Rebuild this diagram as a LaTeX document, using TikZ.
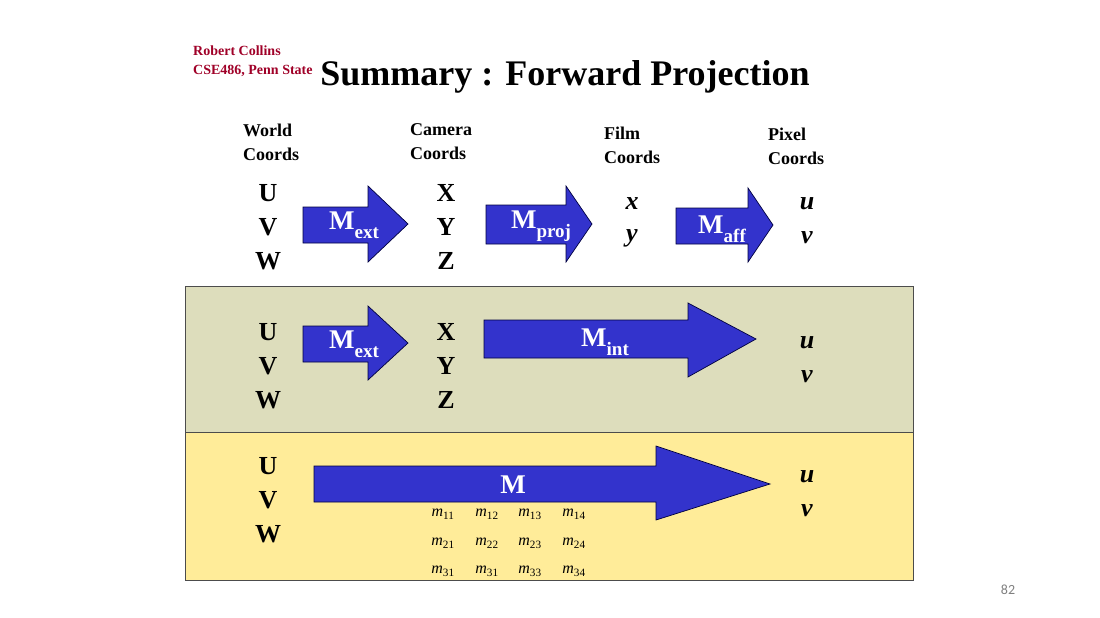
\documentclass[tikz,border=0pt]{standalone}
\usepackage{fontspec}
\setmainfont{Liberation Serif}
\setsansfont{Carlito}
\newcommand{\sbx}[1]{\raisebox{-0.32em}{\fontsize{19}{20}\selectfont #1}}
\begin{document}
\begin{tikzpicture}[x=1pt,y=-1pt,
 bx/.style={font=\bfseries\fontsize{26}{28}\selectfont},
 bi/.style={font=\bfseries\itshape\fontsize{26}{28}\selectfont},
 hd/.style={font=\bfseries\fontsize{18}{24}\selectfont,align=left,anchor=north west,inner sep=0},
 lb/.style={font=\bfseries\fontsize{27}{28}\selectfont,text=white},
 mm/.style={font=\itshape\fontsize{16}{16}\selectfont}]
\useasboundingbox (0,0) rectangle (1100,618);
\fill[white] (0,0) rectangle (1100,618);
\definecolor{grn}{RGB}{221,221,188}
\definecolor{yel}{RGB}{255,236,153}
\definecolor{red1}{RGB}{160,0,40}
\definecolor{ab}{RGB}{51,51,204}
\tikzset{arr/.style={fill=ab,draw=black!75!blue,line width=0.7pt}}
\node[draw=black!70,fill=grn,minimum width=728,minimum height=146,anchor=north west,inner sep=0] (p1) at (185,286) {};
\node[draw=black!70,fill=yel,minimum width=728,minimum height=148,anchor=north west,inner sep=0] (p2) at (185,432) {};
\node[anchor=north west,align=left,text=red1,inner sep=0,font=\bfseries\fontsize{14}{19}\selectfont] (au) at (193,46) {Robert Collins\\CSE486, Penn State};
\node[font=\bfseries\fontsize{36}{38}\selectfont] (ti) at (565,77) {Summary : Forward Projection};
\node[hd] (h1) at (243,124) {World\\Coords};
\node[hd] (h2) at (410,123) {Camera\\Coords};
\node[hd] (h3) at (604,127) {Film\\Coords};
\node[hd] (h4) at (768,128) {Pixel\\Coords};
% row 1
\foreach \t/\y [count=\i] in {U/193,V/227,W/261}{\node[bx] (a\i) at (268,\y) {\t};}
\foreach \t/\y [count=\i] in {X/193,Y/227,Z/261}{\node[bx] (b\i) at (446,\y) {\t};}
\node[bi] (c1) at (632,204) {x};
\node[bi] (c2) at (632,238) {y};
\node[bi] (d1) at (807,204) {u};
\node[bi] (d2) at (807,238) {v};
\draw[arr] (303,207)--(368,207)--(368,186)--(408,224)--(368,262)--(368,243)--(303,243)--cycle;
\draw[arr] (486,205)--(566,205)--(566,186)--(592,224)--(566,262)--(566,244)--(486,244)--cycle;
\draw[arr] (676,208)--(748,208)--(748,188)--(773,225)--(748,262)--(748,244)--(676,244)--cycle;
\node[lb] (l1) at (354,225) {M\sbx{ext}};
\node[lb] (l2) at (541,226) {M\sbx{proj}};
\node[lb] (l3) at (722,229) {M\sbx{aff}};
% row 2
\foreach \t/\y [count=\i] in {U/332,V/366,W/400}{\node[bx] (e\i) at (268,\y) {\t};}
\foreach \t/\y [count=\i] in {X/332,Y/366,Z/400}{\node[bx] (f\i) at (446,\y) {\t};}
\node[bi] (g1) at (807,343) {u};
\node[bi] (g2) at (807,377) {v};
\draw[arr] (303,326)--(368,326)--(368,306)--(408,343)--(368,380)--(368,362)--(303,362)--cycle;
\draw[arr] (484,320)--(688,320)--(688,303)--(756,339)--(688,377)--(688,358)--(484,358)--cycle;
\node[lb] (l4) at (354,344) {M\sbx{ext}};
\node[lb] (l5) at (605,342) {M\sbx{int}};
% row 3
\foreach \t/\y [count=\i] in {U/466,V/500,W/534}{\node[bx] (k\i) at (268,\y) {\t};}
\node[bi] (n1) at (807,477) {u};
\node[bi] (n2) at (807,511) {v};
\draw[arr] (314,466)--(656,466)--(656,446)--(770,484)--(656,520)--(656,502)--(314,502)--cycle;
\node[lb] (l6) at (513,485) {M};
\foreach \r/\y/\a/\b/\c/\d in {1/514/11/12/13/14,2/543/21/22/23/24,3/571/31/31/33/34}{
 \node[mm] (m\r1) at (443,\y) {m\textsubscript{\upshape\a}};
 \node[mm] (m\r2) at (487,\y) {m\textsubscript{\upshape\b}};
 \node[mm] (m\r3) at (530,\y) {m\textsubscript{\upshape\c}};
 \node[mm] (m\r4) at (574,\y) {m\textsubscript{\upshape\d}};}
\node[font=\sffamily\fontsize{14}{14}\selectfont,text=gray] (pg) at (1008,590) {82};
\end{tikzpicture}
\end{document}
